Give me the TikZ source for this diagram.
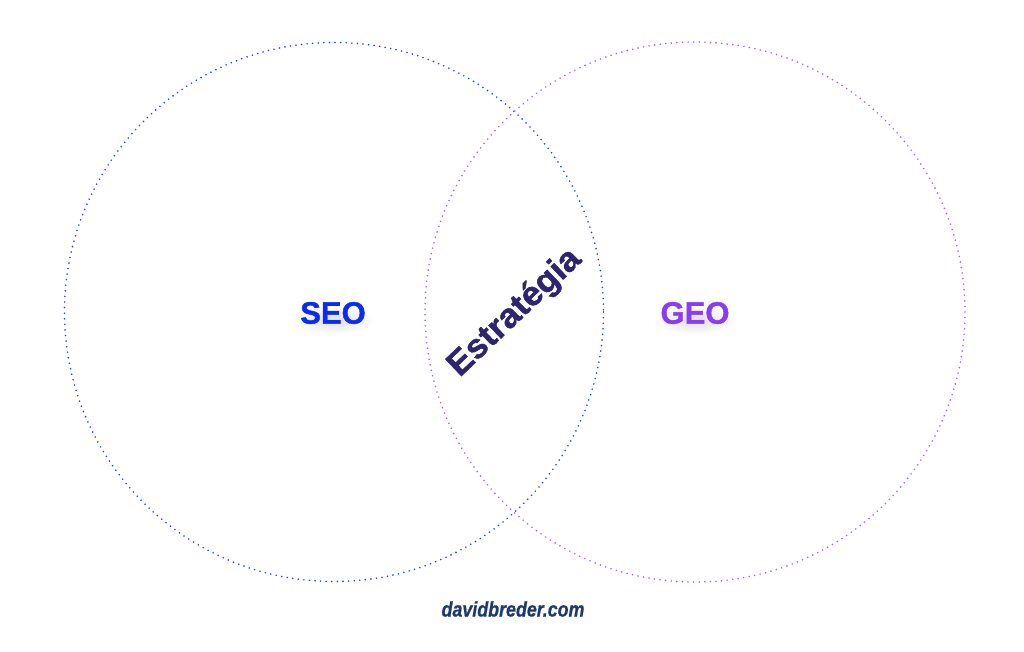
\documentclass[tikz,border=0pt]{standalone}
\usepackage{fontspec}
\setmainfont{Liberation Sans}
\newfontfamily\heavyfont[FakeBold=1.2]{Liberation Sans Bold}
\newfontfamily\heavyitfont[FakeBold=0.8]{Liberation Sans Bold Italic}
\definecolor{seoblue}{HTML}{0A2CF2}
\definecolor{geopurple}{HTML}{8A3CF0}
\definecolor{circblue}{HTML}{2447F2}
\definecolor{circpurple}{HTML}{A868F2}
\definecolor{stratnavy}{HTML}{2E2470}
\definecolor{sitenavy}{HTML}{1E3A6C}
\tikzset{
  dotcircle/.style={line width=1.8pt, line cap=round, dash pattern=on 0pt off 5.6pt},
  bigword/.style={font=\fontsize{31}{31}\heavyfont, inner sep=0pt},
  glow/.style={inner color=black!22, outer color=white, draw=none, opacity=0.6},
}
\begin{document}
\begin{tikzpicture}[x=1pt,y=-1pt]
\useasboundingbox[fill=white] (0,0) rectangle (1024,651);
\draw[dotcircle, draw=circblue] (334,312) circle[radius=269.5];
\draw[dotcircle, draw=circpurple] (695,312) circle[radius=270];
% soft shadows
\shade[glow] (333,320) ellipse[x radius=42, y radius=14];
\shade[glow] (695,320) ellipse[x radius=42, y radius=14];
\node[bigword, text=seoblue] (seo) at (333,313) {SEO};
\node[bigword, text=geopurple] (geo) at (695,313) {GEO};
\node[font=\fontsize{34}{34}\heavyfont, text=stratnavy, inner sep=0pt, rotate=43.5, xscale=1.03] (strat) at (515,313) {Estratégia};
\node[font=\fontsize{21}{21}\heavyitfont, text=sitenavy, inner sep=0pt, xscale=0.85] (site) at (513,609) {davidbreder.com};
\end{tikzpicture}
\end{document}
